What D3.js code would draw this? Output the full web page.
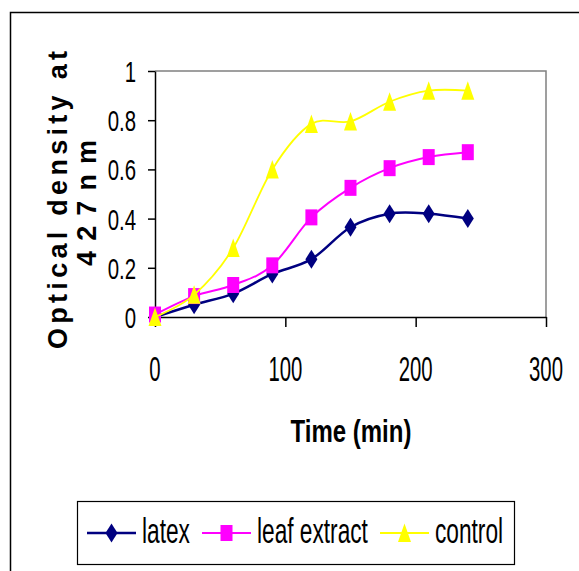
<!DOCTYPE html>
<html>
<head>
<meta charset="utf-8">
<script src="https://cdn.jsdelivr.net/npm/d3@7"></script>
<style>
  body { margin: 0; background: #fff; }
  svg { display: block; }
  text { font-family: "Liberation Sans", Arial, sans-serif; fill: #000; }
</style>
</head>
<body>
<div id="chart"></div>
<script>
// data
const times = [0, 30, 60, 90, 120, 150, 180, 210, 240];
const latex = [0, 0.05, 0.095, 0.175, 0.235, 0.365, 0.42, 0.42, 0.4];
const leafExtract = [0.01, 0.085, 0.13, 0.21, 0.405, 0.525, 0.605, 0.65, 0.67];
const control = [0, 0.09, 0.28, 0.6, 0.785, 0.795, 0.875, 0.92, 0.92];
const seriesNames = ["latex", "leaf extract", "control"];
const xTicks = [0, 100, 200, 300];
const yTicks = [0, 0.2, 0.4, 0.6, 0.8, 1];

const width = 579, height = 571;
const plot = { left: 155, right: 546, top: 71, bottom: 317 };

const svg = d3.select("#chart").append("svg")
    .attr("width", width)
    .attr("height", height);

// outer frame, runs off the right and bottom edges
svg.append("rect")
    .attr("x", 10.5).attr("y", 12.5)
    .attr("width", 600).attr("height", 600)
    .attr("fill", "none").attr("stroke", "#000").attr("stroke-width", 1.5);

const x = d3.scaleLinear().domain([0, 300]).range([plot.left, plot.right]);
const y = d3.scaleLinear().domain([0, 1]).range([plot.bottom, plot.top]);

// text is squashed sideways in the original (stretched picture)
function label(g, px, py, str, size, sx, anchor, weight) {
    return g.append("text")
        .attr("transform", `translate(${px},${py}) scale(${sx},1)`)
        .attr("font-size", size)
        .attr("font-weight", weight || "normal")
        .attr("text-anchor", anchor)
        .text(str);
}

// plot area border (gray top/right)
svg.append("path")
    .attr("d", `M${plot.left},${plot.top}H${plot.right}V${plot.bottom}`)
    .attr("fill", "none").attr("stroke", "#808080").attr("stroke-width", 1.5);

// axes
const yAxis = svg.append("g")
    .attr("transform", `translate(${plot.left},0)`)
    .call(d3.axisLeft(y).tickValues(yTicks).tickSize(7).tickSizeOuter(0).tickFormat(""));
const xAxis = svg.append("g")
    .attr("transform", `translate(0,${plot.bottom})`)
    .call(d3.axisBottom(x).tickValues(xTicks).tickSize(10).tickSizeOuter(0).tickFormat(""));
[yAxis, xAxis].forEach(a => {
    a.selectAll("path, line").attr("stroke", "#000").attr("stroke-width", 1.5);
});

const tickLabels = svg.append("g");
yTicks.forEach(v => label(tickLabels, 136, y(v) + 11, d3.format("")(v), 30, 0.68, "end"));
xTicks.forEach(v => label(tickLabels, x(v), 381, v, 35, 0.58, "middle"));

// axis titles
label(svg, 351, 442, "Time (min)", 32, 0.75, "middle", "bold");

const yTitle = svg.append("g").attr("transform", "rotate(-90)");
yTitle.append("text")
    .attr("x", -200).attr("y", 67)
    .attr("text-anchor", "middle")
    .attr("font-size", 27).attr("font-weight", "bold")
    .attr("textLength", 298).attr("lengthAdjust", "spacing")
    .text("Optical density at");
yTitle.append("text")
    .attr("x", -203).attr("y", 96)
    .attr("text-anchor", "middle")
    .attr("font-size", 27).attr("font-weight", "bold")
    .attr("textLength", 126).attr("lengthAdjust", "spacing")
    .text("427nm");

// series
const series = [
    { name: seriesNames[0], values: latex, color: "#000080", width: 2.5, marker: "diamond" },
    { name: seriesNames[1], values: leafExtract, color: "#FF00FF", width: 2, marker: "square" },
    { name: seriesNames[2], values: control, color: "#FFFF00", width: 1.8, marker: "triangle" }
];

function markerPath(type) {
    if (type === "diamond") return "M0,-9.5L6,0L0,9.5L-6,0Z";
    if (type === "square") return "M-6,-8H6V8H-6Z";
    return "M0,-9.5L6.5,9L-6.5,9Z";
}

const line = d3.line()
    .x((d, i) => x(times[i]))
    .y(d => y(d))
    .curve(d3.curveCardinal.tension(0));

series.forEach(s => {
    const g = svg.append("g");
    g.append("path")
        .attr("d", line(s.values))
        .attr("fill", "none")
        .attr("stroke", s.color)
        .attr("stroke-width", s.width);
    g.selectAll("path.marker")
        .data(s.values)
        .enter().append("path")
        .attr("class", "marker")
        .attr("transform", (d, i) => `translate(${x(times[i])},${y(d)})`)
        .attr("d", markerPath(s.marker))
        .attr("fill", s.color);
});

// legend
const legend = svg.append("g");
legend.append("rect")
    .attr("x", 77.5).attr("y", 501.5)
    .attr("width", 437).attr("height", 63)
    .attr("fill", "#fff").attr("stroke", "#000").attr("stroke-width", 1.2);

const legendPos = [
    { x0: 87, text: 142 },
    { x0: 202, text: 257 },
    { x0: 380, text: 435 }
];
series.forEach((s, i) => {
    const p = legendPos[i];
    legend.append("line")
        .attr("x1", p.x0).attr("x2", p.x0 + 49)
        .attr("y1", 533).attr("y2", 533)
        .attr("stroke", s.color).attr("stroke-width", s.width);
    legend.append("path")
        .attr("transform", `translate(${p.x0 + 24.5},533)`)
        .attr("d", markerPath(s.marker))
        .attr("fill", s.color);
    label(legend, p.text, 543, s.name, 36, 0.63, "start");
});
</script>
</body>
</html>
